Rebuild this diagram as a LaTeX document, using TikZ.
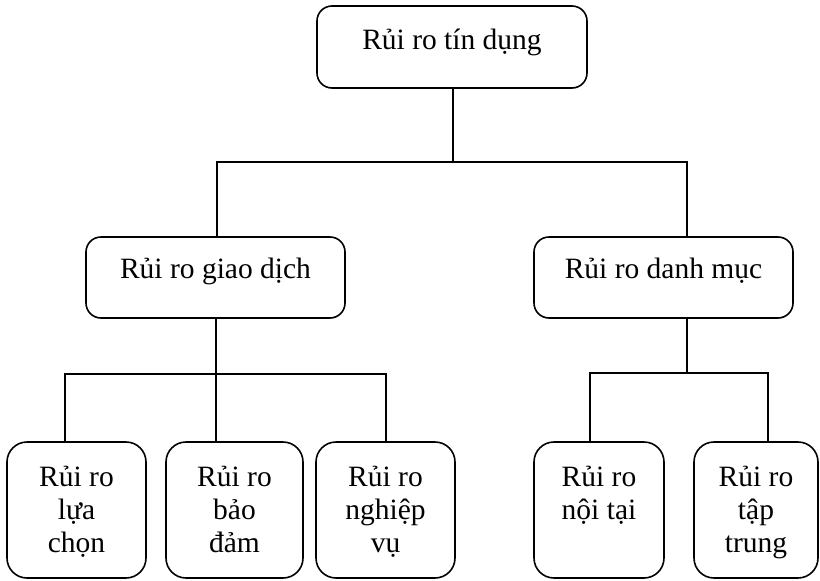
\documentclass[tikz,border=0pt]{standalone}
\usepackage{fontspec}
\setmainfont{Liberation Serif}
\begin{document}
\begin{tikzpicture}[x=1pt,y=-1pt,
  box/.style={draw, line width=1.6pt, rounded corners=15pt, inner sep=0pt},
  bbox/.style={box, rounded corners=20pt, minimum height=136pt},
  lbl/.style={anchor=base, font=\fontsize{29.5}{33}\selectfont, align=center, inner sep=0pt},
  conn/.style={line width=1.3pt}]
\useasboundingbox (0,0) rectangle (820,581);
% boxes
\node[box, minimum width=270pt, minimum height=82pt] (top) at (452,47) {};
\node[box, minimum width=259pt, minimum height=81pt] (gd) at (215.5,277.5) {};
\node[box, minimum width=259pt, minimum height=81pt] (dm) at (663.5,277.5) {};
\node[bbox, minimum width=139pt] (b1) at (76.5,510) {};
\node[bbox, minimum width=137pt] (b2) at (234.5,510) {};
\node[bbox, minimum width=139pt] (b3) at (385.5,510) {};
\node[bbox, minimum width=130pt] (b4) at (599,510) {};
\node[bbox, minimum width=124pt] (b5) at (756,510) {};
% labels (base anchor = baseline of the last line)
\node[lbl] (ttop) at (452,49) {Rủi ro tín dụng};
\node[lbl] (tgd) at (215.5,278) {Rủi ro giao dịch};
\node[lbl] (tdm) at (663.5,278) {Rủi ro danh mục};
\node[lbl] (tb1) at (76.5,552) {Rủi ro\\lựa\\chọn};
\node[lbl] (tb2) at (234.5,552) {Rủi ro\\bảo\\đảm};
\node[lbl] (tb3) at (385.5,552) {Rủi ro\\nghiệp\\vụ};
\node[lbl] (tb4) at (599,519) {Rủi ro\\nội tại};
\node[lbl] (tb5) at (756,552) {Rủi ro\\tập\\trung};
% connectors
\coordinate (a0) at (453,162);
\coordinate (a1) at (216,374);
\coordinate (a2) at (687,373);
\draw[conn] (top.south -| a0) -- (a0);
\draw[conn] ([xshift=1.5pt]gd.north) |- (a0) -| ([xshift=23.5pt]dm.north);
\draw[conn] (gd.south -| a1) -- (a1);
\draw[conn] ([xshift=-11.5pt]b1.north) |- (a1) -| ([xshift=0.5pt]b3.north);
\draw[conn] (a1) -- (b2.north -| a1);
\draw[conn] (dm.south -| a2) -- (a2);
\draw[conn] ([xshift=-9pt]b4.north) |- (a2) -| ([xshift=12pt]b5.north);
\end{tikzpicture}
\end{document}
